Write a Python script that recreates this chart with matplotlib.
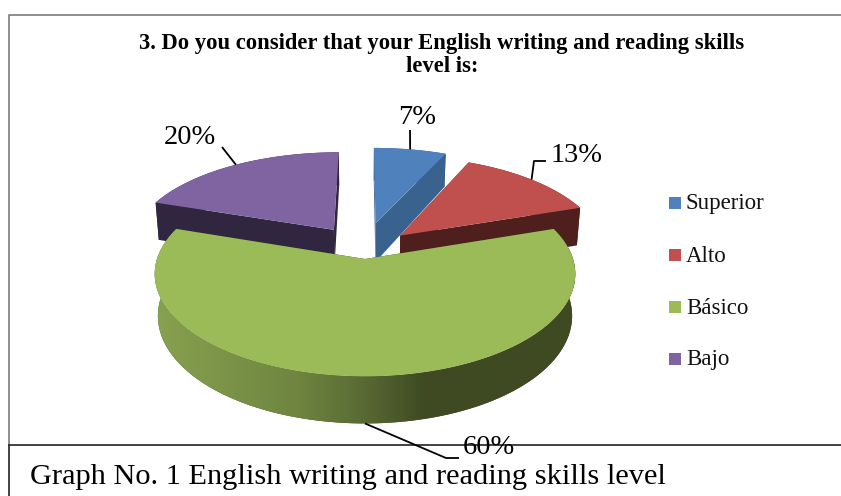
"""
Exploded 3D-style pie of self-rated English writing and reading level.
"""

import numpy as np
import matplotlib

matplotlib.use("Agg")
import matplotlib.pyplot as plt  # noqa: E402
from matplotlib.colors import LinearSegmentedColormap  # noqa: E402
from matplotlib.patches import Polygon, Rectangle  # noqa: E402


OUT_FILE = "out.png"

CATEGORIES = ["Superior", "Alto", "Básico", "Bajo"]
VALUES = [7, 13, 60, 20]
TOP_COLORS = ["#4F81BD", "#C0504D", "#9BBB59", "#8064A2"]
SIDE_COLORS = ["#3A628F", "#4F1F1D", "#3F4A22", "#312640"]

TITLE = "3. Do you consider that your English writing and reading skills\nlevel is:"
CAPTION = "Graph No. 1 English writing and reading skills level"

# pie geometry, in pixels of the final image
CX, CY = 365, 259
RX, RY = 208, 102
PERSPECTIVE = 0.15
DEPTH = 41
WALL_SHRINK = 0.985
EXPLODE = [0.38, 0.36, 0.0, 0.37]
EXPLODE_X_SQUEEZE = [0.65, 0.65, 0.65, 0.72]

SERIF = "Liberation Serif"


def project(u, v, drop=0.0):
    """Pie plane to image pixels; far points shrink, drop moves down the wall."""
    p = 1 - PERSPECTIVE * np.asarray(v)
    scale = WALL_SHRINK if drop else 1.0
    return CX + RX * np.asarray(u) * p * scale, CY - RY * np.asarray(v) * p + drop * p


def slice_geometry(values):
    # angles run clockwise from twelve o'clock
    edges = np.cumsum([0] + list(values)) / sum(values) * 2 * np.pi
    slices = []
    for i in range(len(values)):
        a0, a1 = edges[i], edges[i + 1]
        mid = (a0 + a1) / 2
        ou = EXPLODE[i] * np.sin(mid) * EXPLODE_X_SQUEEZE[i]
        ov = EXPLODE[i] * np.cos(mid)
        slices.append({"a0": a0, "a1": a1, "mid": mid, "ou": ou, "ov": ov})
    return slices


def rim(s, drop=0.0, n=120):
    a = np.linspace(s["a0"], s["a1"], n)
    return project(s["ou"] + np.sin(a), s["ov"] + np.cos(a), drop)


def draw_slice(ax, s, top, side, gradient=None):
    apex_x, apex_y = project(s["ou"], s["ov"])
    low_x, low_y = project(s["ou"], s["ov"], DEPTH)
    x, y = rim(s)
    xd, yd = rim(s, DEPTH)

    # radial faces
    for end in (0, -1):
        ax.add_patch(Polygon([(apex_x, apex_y), (x[end], y[end]), (xd[end], yd[end]), (low_x, low_y)],
                             closed=True, fc=side, ec="none", zorder=s["z"]))

    # outer wall
    wall = Polygon(np.r_[np.c_[x, y], np.c_[xd, yd][::-1]], closed=True,
                   fc=side, ec="none", zorder=s["z"])
    ax.add_patch(wall)
    if gradient is not None:
        img = ax.imshow(np.linspace(0, 1, 256)[None, :], cmap=gradient, aspect="auto",
                        extent=(x.min() - 2, x.max() + 2, yd.max() + 2, y.min() - 2),
                        zorder=s["z"] + 0.1)
        img.set_clip_path(wall)

    # top face
    ax.add_patch(Polygon(np.r_[[(apex_x, apex_y)], np.c_[x, y]], closed=True,
                         fc=top, ec="none", zorder=s["z"] + 0.2))


def main() -> None:
    fig = plt.figure(figsize=(8.41, 4.96), dpi=100)
    ax = fig.add_axes([0, 0, 1, 1])

    slices = slice_geometry(VALUES)
    green_wall = LinearSegmentedColormap.from_list(
        "green_wall",
        [(0.0, "#87A24F"), (0.34, "#6F8540"), (0.49, "#596B34"),
         (0.64, "#3F4A22"), (1.0, "#3F4A22")],
    )

    # back to front: purple, blue, red, then the large green slice
    for i, z in zip([3, 0, 1, 2], [2, 3, 4, 5]):
        slices[i]["z"] = z
        draw_slice(ax, slices[i], TOP_COLORS[i], SIDE_COLORS[i],
                   gradient=green_wall if i == 2 else None)

    # leader lines start from the middle of each outer edge
    label_pos = [(417, 118), (577, 155), (489, 448), (190, 138)]
    bends = [[(410, 130)], [(534, 161), (546, 161)], [(446, 458), (459, 458)], [(222, 147)]]
    for i, s in enumerate(slices):
        drop = DEPTH if i == 2 else 0
        u = s["ou"] + np.sin(s["mid"])
        v = s["ov"] + np.cos(s["mid"])
        x0, y0 = project(u, v, drop)
        pts = [(x0, y0)] + bends[i]
        ax.plot(*zip(*pts), color="black", lw=1.3, zorder=8, solid_capstyle="butt")
        ax.text(*label_pos[i], f"{VALUES[i]}%", family=SERIF, fontsize=20.5,
                ha="center", va="center", color="black", zorder=9)

    # legend
    for name, color, y in zip(CATEGORIES, TOP_COLORS, [203, 255, 307, 359]):
        ax.add_patch(Rectangle((669, y - 6), 12, 12, fc=color, ec="none", zorder=6))
        ax.text(686, y + 1, name, family=SERIF, fontsize=16.5, va="center", ha="left", color="#111111")

    ax.text(442, 55, TITLE, family=SERIF, fontweight="bold", fontsize=16.3,
            ha="center", va="center", linespacing=1.12, color="black")
    ax.text(30, 477, CAPTION, family=SERIF, fontsize=21.9, va="center", ha="left", color="black")

    # chart frame and the table rule under it
    ax.plot([841, 9.5, 9.5], [14.5, 14.5, 445], color="#868686", lw=1.3, zorder=1)
    ax.plot([9.5, 841], [445, 445], color="#333333", lw=1.3, zorder=7)
    ax.plot([9.5, 9.5], [445, 496], color="#222222", lw=1.2, zorder=1)

    ax.set_xlim(0, 841)
    ax.set_ylim(496, 0)
    ax.axis("off")

    fig.savefig(OUT_FILE, dpi=100, facecolor="white")


if __name__ == "__main__":
    main()
